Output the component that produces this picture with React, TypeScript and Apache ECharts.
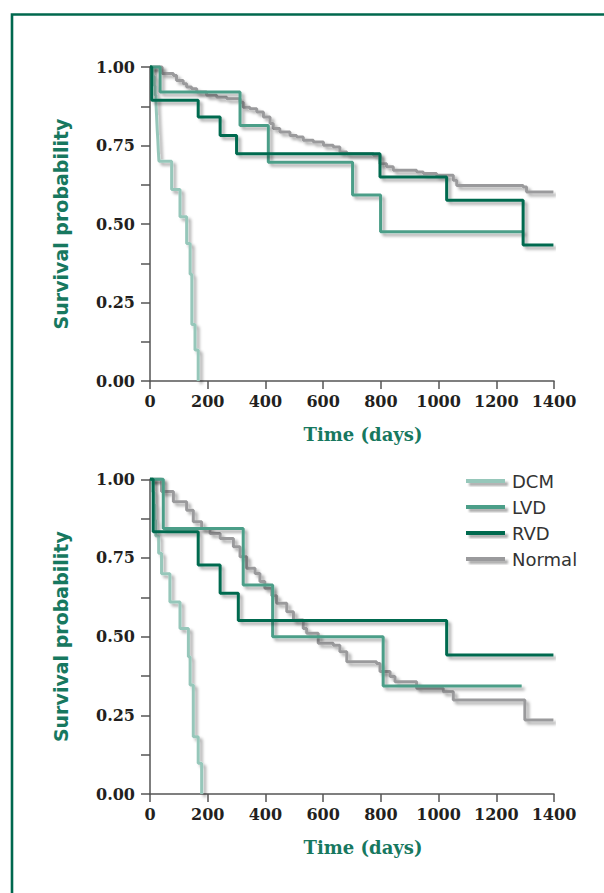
import React, { useEffect, useRef } from "react";
import * as echarts from "echarts";

// Time ticks (days) and survival ticks
const timeTicks = [0, 200, 400, 600, 800, 1000, 1200, 1400];
const seriesNames = ["DCM", "LVD", "RVD", "Normal"];

// Upper panel: [time (days), survival after event]
const topDcm = [[0, 1], [10, 0.97], [15, 0.94], [18, 0.91], [21, 0.88], [23, 0.84], [25, 0.8], [27, 0.77], [29, 0.73], [31, 0.7], [75, 0.61], [104, 0.523], [127, 0.438], [139, 0.34], [145, 0.18], [156, 0.099], [167, 0]];
const topLvd = [[0, 1], [35, 0.92], [312, 0.814], [410, 0.697], [702, 0.592], [799, 0.475], [1293, 0.475]];
const topRvd = [[0, 1], [6, 0.894], [167, 0.841], [243, 0.782], [300, 0.724], [797, 0.65], [1028, 0.576], [1293, 0.433], [1398, 0.433]];
const topNormal = [[0, 1], [42, 0.979], [81, 0.973], [92, 0.957], [115, 0.947], [127, 0.936], [144, 0.931], [162, 0.92], [196, 0.91], [231, 0.904], [266, 0.899], [312, 0.888], [323, 0.872], [346, 0.867], [370, 0.857], [393, 0.841], [416, 0.82], [427, 0.804], [450, 0.793], [485, 0.782], [508, 0.777], [531, 0.767], [566, 0.761], [601, 0.751], [635, 0.745], [658, 0.729], [682, 0.724], [774, 0.719], [797, 0.692], [820, 0.682], [843, 0.671], [924, 0.666], [947, 0.661], [993, 0.655], [1051, 0.639], [1063, 0.623], [1293, 0.618], [1305, 0.602], [1398, 0.602]];

// Lower panel
const botDcm = [[0, 1], [10, 0.96], [14, 0.92], [17, 0.87], [20, 0.82], [30, 0.765], [40, 0.7], [69, 0.61], [104, 0.526], [133, 0.436], [139, 0.346], [150, 0.182], [167, 0.098], [179, 0]];
const botLvd = [[0, 1], [46, 0.844], [323, 0.664], [425, 0.5], [808, 0.343], [1288, 0.343]];
const botRvd = [[0, 1], [11, 0.833], [167, 0.728], [243, 0.638], [306, 0.551], [1028, 0.442], [1398, 0.442]];
const botNormal = [[0, 1], [40, 0.961], [81, 0.929], [127, 0.902], [150, 0.865], [179, 0.844], [208, 0.828], [243, 0.812], [289, 0.786], [312, 0.754], [335, 0.717], [364, 0.701], [381, 0.675], [398, 0.654], [422, 0.63], [439, 0.606], [474, 0.579], [497, 0.553], [531, 0.526], [543, 0.511], [583, 0.479], [635, 0.473], [658, 0.452], [682, 0.42], [785, 0.415], [797, 0.389], [832, 0.373], [849, 0.357], [924, 0.336], [1016, 0.325], [1051, 0.299], [1299, 0.235], [1398, 0.235]];

const colors: Record<string, string> = {
  DCM: "#96c7ba",
  LVD: "#4c9e88",
  RVD: "#006b4f",
  Normal: "#9a9a9c",
};

const teal = "#17785f";
const ink = "#231f20";

export default function App() {
  const ref = useRef<HTMLDivElement>(null);
  useEffect(() => {
    if (!ref.current) return;
    const chart = echarts.init(ref.current, undefined, { renderer: "svg" });

    const mkX = (gi: number) => ({
      type: "value",
      gridIndex: gi,
      min: 0,
      max: 1400,
      interval: 200,
      name: "Time (days)",
      nameLocation: "middle",
      nameGap: 44,
      nameTextStyle: {
        fontFamily: "DejaVu Serif",
        fontWeight: "bold",
        fontSize: 18,
        color: teal,
        padding: [0, 0, 0, 22],
      },
      axisLine: { show: true, lineStyle: { color: "#555", width: 1.5 } },
      axisTick: { show: true, length: 8, lineStyle: { color: "#555", width: 1.5 } },
      axisLabel: {
        margin: 12,
        fontFamily: "DejaVu Serif",
        fontWeight: "bold",
        fontSize: 16,
        color: ink,
        formatter: (v: number) => (timeTicks.includes(v) ? String(v) : ""),
      },
      splitLine: { show: false },
    });
    const mkY = (gi: number) => ({
      type: "value",
      gridIndex: gi,
      min: 0,
      max: 1,
      interval: 0.125,
      name: "Survival probability",
      nameLocation: "middle",
      nameGap: 80,
      nameTextStyle: {
        fontFamily: "DejaVu Sans",
        fontWeight: "bold",
        fontSize: 19,
        color: teal,
      },
      axisLine: { show: true, lineStyle: { color: "#555", width: 1.5 } },
      axisTick: { show: true, length: 9, lineStyle: { color: "#555", width: 1.5 } },
      axisLabel: {
        margin: 15,
        fontFamily: "DejaVu Serif",
        fontWeight: "bold",
        fontSize: 16,
        color: ink,
        formatter: (v: number) =>
          Math.abs(Math.round(v * 4) - v * 4) < 1e-6 ? v.toFixed(2) : "",
      },
      splitLine: { show: false },
    });

    const shadow = {
      shadowColor: "rgba(0,0,0,0.32)",
      shadowBlur: 3,
      shadowOffsetX: 3,
      shadowOffsetY: 3,
    };
    const mkS = (name: string, data: number[][], gi: number) => ({
      name,
      type: "line",
      xAxisIndex: gi,
      yAxisIndex: gi,
      data,
      step: "end",
      showSymbol: false,
      symbol: "none",
      clip: false,
      color: colors[name],
      lineStyle: { color: colors[name], width: 3, ...shadow },
      z: name === "Normal" ? 1 : name === "DCM" ? 2 : name === "LVD" ? 3 : 4,
    });

    chart.setOption({
      animation: false,
      backgroundColor: "#ffffff",
      graphic: [
        {
          type: "rect",
          shape: { x: 12, y: 14.5, width: 700, height: 1000 },
          style: { fill: "none", stroke: "#00684e", lineWidth: 2.6 },
          silent: true,
        },
      ],
      legend: {
        data: seriesNames,
        orient: "vertical",
        left: 461,
        top: 467,
        icon: "rect",
        itemWidth: 39,
        itemHeight: 4,
        itemGap: 8,
        itemStyle: { ...shadow, shadowBlur: 2 },
        textStyle: {
          fontFamily: "DejaVu Sans",
          fontSize: 18,
          color: "#333",
          padding: [0, 0, 0, 2],
        },
      },
      grid: [
        { left: 150, width: 404, top: 67, height: 314 },
        { left: 150, width: 404, top: 479.3, height: 314.7 },
      ],
      xAxis: [mkX(0), mkX(1)],
      yAxis: [mkY(0), mkY(1)],
      series: [
        mkS("Normal", topNormal, 0),
        mkS("DCM", topDcm, 0),
        mkS("LVD", topLvd, 0),
        mkS("RVD", topRvd, 0),
        mkS("Normal", botNormal, 1),
        mkS("DCM", botDcm, 1),
        mkS("LVD", botLvd, 1),
        mkS("RVD", botRvd, 1),
      ],
    });
    return () => chart.dispose();
  }, []);

  return (
    <div
      ref={ref}
      style={{ position: "fixed", left: 0, top: 0, width: 604, height: 893, background: "#fff" }}
    />
  );
}
